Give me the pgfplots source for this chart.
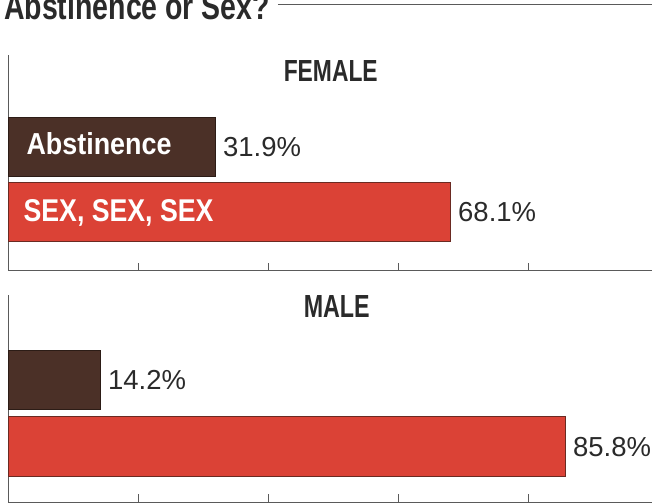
\documentclass[border=0pt]{standalone}
\usepackage{fontspec}
\setmainfont{Liberation Sans}
\usepackage{pgfplots}
\pgfplotsset{compat=1.18}
\definecolor{brownbar}{HTML}{4B3027}
\definecolor{brownedge}{HTML}{2C1C16}
\definecolor{redbar}{HTML}{DB4236}
\definecolor{rededge}{HTML}{6A2A22}
\definecolor{txt}{HTML}{2A2A2A}
\definecolor{axisc}{HTML}{5A5A5A}
\pgfplotsset{panel/.style={
  scale only axis, width=643.5pt, xmin=0, xmax=99, ymin=0,
  enlargelimits=false, clip=false, xbar,
  axis x line=bottom, axis y line=left,
  axis line style={-, draw=axisc, line width=1pt},
  xtick={20,40,60,80}, xticklabel={\mbox{}},
  xticklabel style={inner sep=0pt, outer sep=0pt},
  ytick=\empty,
  tick align=inside, major tick length=8pt,
  tick style={draw=axisc, line width=0.8pt},
  /pgf/number format/assume math mode=true,
  point meta=x,
  nodes near coords={\pgfmathprintnumber[fixed,fixed zerofill,precision=1]{\pgfplotspointmeta}\%},
  every node near coord/.style={anchor=west, inner sep=0pt, xshift=7pt, text=txt, font=\fontsize{27.5}{30}\selectfont},
}}
\begin{document}
\begin{tikzpicture}
\fill[white] (0,0) rectangle (652pt,-503pt);
\begin{scope}
\clip (0,0) rectangle (652pt,-503pt);
\node[anchor=base west, inner sep=0pt, text=txt] at (4pt,-20pt) {\resizebox{266pt}{27pt}{\bfseries Abstinence or Sex?}};
\end{scope}
\draw[axisc, line width=1pt] (278pt,-5pt) -- (652pt,-5pt);
% FEMALE panel
\begin{axis}[panel, at={(8.5pt,-271pt)}, anchor=south west, height=216pt, ymax=216]
\addplot[bar shift=0pt, bar width=60, fill=brownbar, draw=brownedge, line width=0.8pt] coordinates {(31.9,124)};
\addplot[bar shift=0pt, bar width=59, fill=redbar, draw=rededge, line width=0.8pt] coordinates {(68.1,58.5)};
\node[anchor=base west, inner sep=0pt, text=white] at (axis cs:2.75,116) {\resizebox{145pt}{22pt}{\bfseries Abstinence}};
\node[anchor=base west, inner sep=0pt, text=white] at (axis cs:2.3,49) {\resizebox{190pt}{22pt}{\bfseries SEX, SEX, SEX}};
\end{axis}
% MALE panel
\begin{axis}[panel, at={(8.5pt,-502.5pt)}, anchor=south west, height=207.5pt, ymax=207.5]
\addplot[bar shift=0pt, bar width=59, fill=brownbar, draw=brownedge, line width=0.8pt] coordinates {(14.2,122)};
\addplot[bar shift=0pt, bar width=60, fill=redbar, draw=rededge, line width=0.8pt] coordinates {(85.8,55.5)};
\end{axis}
\node[anchor=base, inner sep=0pt, text=txt] at (331pt,-82pt) {\resizebox{94pt}{21pt}{\bfseries FEMALE}};
\node[anchor=base, inner sep=0pt, text=txt] at (337pt,-318pt) {\resizebox{66pt}{22pt}{\bfseries MALE}};
\end{tikzpicture}
\end{document}
